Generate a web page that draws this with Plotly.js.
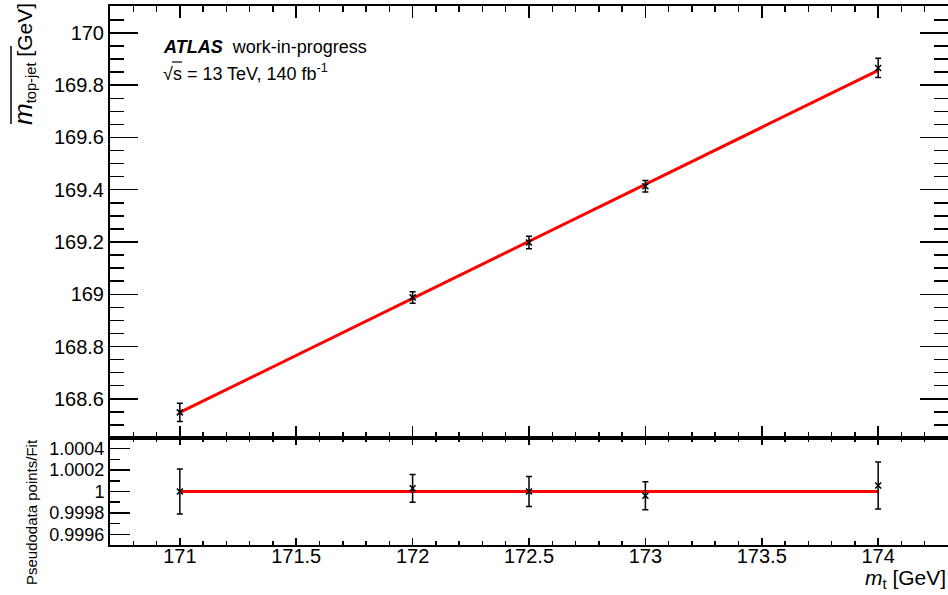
<!DOCTYPE html>
<html><head><meta charset="utf-8">
<script src="https://cdn.plot.ly/plotly-3.0.1.min.js"></script>
<style>html,body{margin:0;padding:0;background:#fff}</style>
</head><body>
<div id="chart" style="width:948px;height:595px"></div>
<script>
// Data
const topMass = [171, 172, 172.5, 173, 174];
const jetMass = [168.548, 168.988, 169.198, 169.413, 169.866];
const jetMassErr = [0.035, 0.022, 0.024, 0.022, 0.037];
const ratio = [1.0, 1.00003, 1.0, 0.99996, 1.000056];
const ratioErr = [0.00021, 0.00013, 0.00014, 0.00013, 0.00022];
const fitX = [171, 174];
const fitY = [168.548, 169.857];
const ratioLineY = [1, 1];

const FONT = '"Liberation Sans", Arial, Helvetica, sans-serif';
const W = 948, H = 595, L = 110, R = 0, T = 6, B = 50;
const PW = W - L - R, PH = H - T - B;
const px = x => (x - L) / PW;
const py = y => (H - B - y) / PH;
const split = py(438);

const markerStyle = {symbol: 'x-thin', size: 6, color: 'black', line: {color: 'black', width: 1.5}};

const traces = [
  {x: fitX, y: fitY, xaxis: 'x', yaxis: 'y', mode: 'lines', line: {color: '#ff0000', width: 3}, hoverinfo: 'skip'},
  {x: topMass, y: jetMass, xaxis: 'x', yaxis: 'y', mode: 'markers', marker: markerStyle,
   error_y: {type: 'data', array: jetMassErr, visible: true, color: 'black', thickness: 1.5, width: 3}},
  {x: fitX, y: ratioLineY, xaxis: 'x2', yaxis: 'y2', mode: 'lines', line: {color: '#ff0000', width: 3}, hoverinfo: 'skip'},
  {x: topMass, y: ratio, xaxis: 'x2', yaxis: 'y2', mode: 'markers', marker: markerStyle,
   error_y: {type: 'data', array: ratioErr, visible: true, color: 'black', thickness: 1.5, width: 3}}
];

const common = {showgrid: false, zeroline: false, showline: true, linecolor: 'black', linewidth: 2,
  ticks: 'inside', tickcolor: 'black', tickwidth: 1.5, fixedrange: true};

const layout = {
  width: W, height: H, showlegend: false,
  margin: {l: L, r: R, t: T, b: B, pad: 0},
  paper_bgcolor: 'white', plot_bgcolor: 'white',
  font: {family: FONT, color: 'black', size: 20},
  xaxis: Object.assign({}, common, {domain: [0, 1], anchor: 'y', range: [170.7, 174.3], dtick: 0.5, tick0: 171,
    ticklen: 12, showticklabels: false, mirror: 'allticks', matches: 'x2',
    minor: {dtick: 0.1, tick0: 171, ticklen: 6, tickwidth: 1.5, tickcolor: 'black', ticks: 'inside', showgrid: false}}),
  yaxis: Object.assign({}, common, {domain: [split, 1], anchor: 'x', range: [168.45, 170.103], dtick: 0.2, tick0: 170,
    ticklen: 28, mirror: 'allticks', tickfont: {size: 20, family: FONT},
    minor: {dtick: 0.05, tick0: 170, ticklen: 14, tickwidth: 1.5, tickcolor: 'black', ticks: 'inside', showgrid: false}}),
  xaxis2: Object.assign({}, common, {domain: [0, 1], anchor: 'y2', range: [170.7, 174.3], dtick: 0.5, tick0: 171,
    ticklen: 7, mirror: 'allticks', tickfont: {size: 20, family: FONT}, ticklabelstandoff: -8,
    minor: {dtick: 0.1, tick0: 171, ticklen: 4, tickwidth: 1.5, tickcolor: 'black', ticks: 'inside', showgrid: false}}),
  yaxis2: Object.assign({}, common, {domain: [0, split], anchor: 'x2', range: [0.9995, 1.0005], dtick: 0.0002, tick0: 1,
    ticklen: 20, mirror: true, tickfont: {size: 18, family: FONT},
    minor: {dtick: 0.0001, tick0: 1, ticklen: 10, tickwidth: 1.5, tickcolor: 'black', ticks: 'inside', showgrid: false}}),
  yaxis3: Object.assign({}, common, {overlaying: 'y2', side: 'right', anchor: 'x2', range: [0.9995, 1.0005], dtick: 0.0002, tick0: 1,
    ticklen: 12, showline: false, showticklabels: false,
    minor: {dtick: 0.0001, tick0: 1, ticklen: 6, tickwidth: 1.5, tickcolor: 'black', ticks: 'inside', showgrid: false}}),
  shapes: [
    // overline of the y-axis title
    {type: 'line', xref: 'paper', yref: 'paper', x0: px(11), x1: px(11), y0: py(46), y1: py(124),
     line: {color: 'black', width: 1.5}},
    // bar of the square root
    {type: 'line', xref: 'paper', yref: 'paper', x0: px(172), x1: px(182), y0: py(62), y1: py(62),
     line: {color: 'black', width: 1.2}}
  ],
  annotations: [
    {xref: 'paper', yref: 'paper', x: px(24), y: py(1), xanchor: 'center', yanchor: 'top', textangle: -90,
     showarrow: false, text: '<span style="font-size:26px"><i>m</i></span><sub>top-jet</sub> [GeV]', font: {size: 21, family: FONT}},
    {xref: 'paper', yref: 'paper', x: px(31), y: py(437), xanchor: 'center', yanchor: 'top', textangle: -90,
     showarrow: false, text: 'Pseudodata points/Fit', font: {size: 15, family: FONT}},
    {xref: 'paper', yref: 'paper', x: 1, y: py(579), xanchor: 'right', yanchor: 'middle',
     showarrow: false, text: '<i>m</i><sub>t</sub> [GeV]', font: {size: 21, family: FONT}},
    {xref: 'paper', yref: 'paper', x: px(161), y: py(47), xanchor: 'left', yanchor: 'middle',
     showarrow: false, text: '<b><i>ATLAS</i></b>  work-in-progress', font: {size: 18, family: FONT}},
    {xref: 'paper', yref: 'paper', x: px(161), y: py(73), xanchor: 'left', yanchor: 'middle',
     showarrow: false, text: '√s = 13 TeV, 140 fb<sup>-1</sup>', font: {size: 18, family: FONT}}
  ]
};

Plotly.newPlot('chart', traces, layout, {staticPlot: true, displayModeBar: false});
</script>
</body></html>
